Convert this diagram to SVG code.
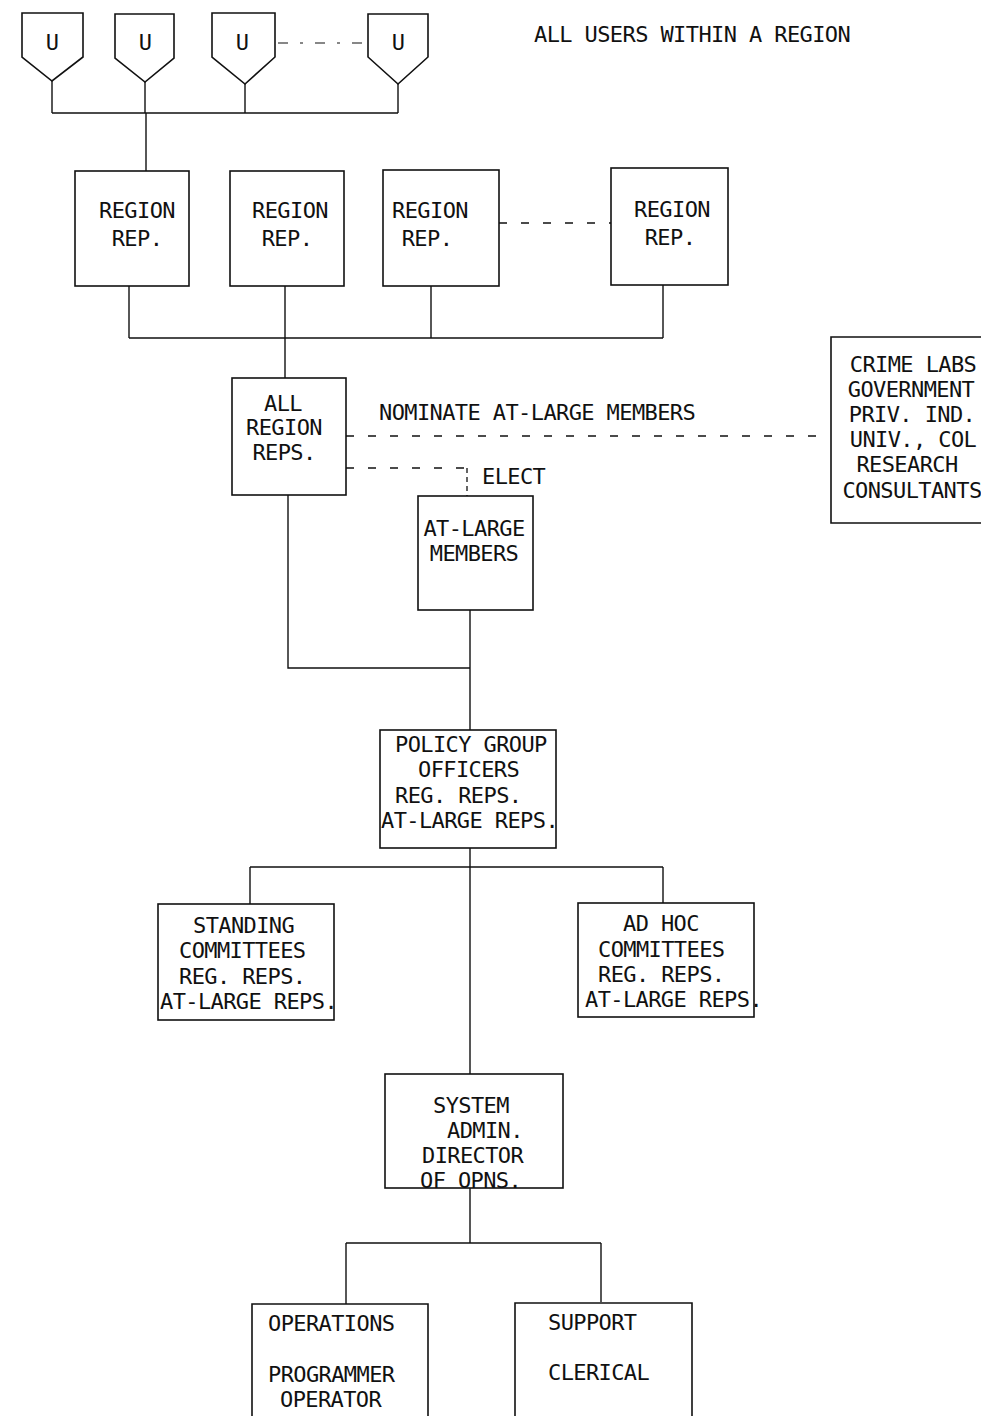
<svg xmlns="http://www.w3.org/2000/svg" width="981" height="1416" viewBox="0 0 981 1416">
<style>
.b{fill:none;stroke:#111;stroke-width:1.6}
.l{fill:none;stroke:#111;stroke-width:1.4}
.d{fill:none;stroke:#111;stroke-width:1.4;stroke-dasharray:8,14}
.dv{fill:none;stroke:#111;stroke-width:1.3;stroke-dasharray:5,4}
.dd{fill:none;stroke:#111;stroke-width:1.2;stroke-dasharray:10,12,3,12}
text{font-family:"DejaVu Sans Mono","Liberation Mono",monospace;font-size:22px;letter-spacing:-0.6px;fill:#111}
.c{text-anchor:middle}
</style>
<rect width="981" height="1416" fill="#fff"/>
<g id="users">
<g id="u1"><path class="b" d="M22,13 H83 V57 L52,81 L22,57 Z"/><text class="c" x="52" y="50">U</text></g>
<g id="u2"><path class="b" d="M115,14 H174 V58 L145,82 L115,58 Z"/><text class="c" x="145" y="50">U</text></g>
<g id="u3"><path class="b" d="M212,13 H275 V57 L245,84 L212,57 Z"/><text class="c" x="242" y="50">U</text></g>
<g id="u4"><path class="b" d="M368,14 H428 V57 L398,84 L368,57 Z"/><text class="c" x="398" y="50">U</text></g>
<text x="534" y="42">ALL USERS WITHIN A REGION</text>
</g>
<g id="rr1"><rect class="b" x="75" y="171" width="114" height="115"/><text class="c" x="137" y="218">REGION</text><text class="c" x="137" y="246">REP.</text></g>
<g id="rr2"><rect class="b" x="230" y="171" width="114" height="115"/><text class="c" x="290" y="218">REGION</text><text class="c" x="287" y="246">REP.</text></g>
<g id="rr3"><rect class="b" x="383" y="170" width="116" height="116"/><text class="c" x="430" y="218">REGION</text><text class="c" x="427" y="246">REP.</text></g>
<g id="rr4"><rect class="b" x="611" y="168" width="117" height="117"/><text class="c" x="672" y="217">REGION</text><text class="c" x="670" y="245">REP.</text></g>
<g id="allreps"><rect class="b" x="232" y="378" width="114" height="117"/><text class="c" x="283" y="411">ALL</text><text class="c" x="284" y="435">REGION</text><text class="c" x="284" y="460">REPS.</text></g>
<g id="crime"><path class="b" d="M981,337 H831 V523 H981"/>
<text class="c" x="913" y="372">CRIME LABS</text><text class="c" x="911" y="397">GOVERNMENT</text><text class="c" x="912" y="422">PRIV. IND.</text><text class="c" x="913" y="447">UNIV., COL</text><text class="c" x="907" y="472">RESEARCH</text><text class="c" x="912" y="498">CONSULTANTS</text></g>
<g id="atlarge"><rect class="b" x="418" y="496" width="115" height="114"/><text class="c" x="474" y="536">AT-LARGE</text><text class="c" x="474" y="561">MEMBERS</text></g>
<g id="policy"><rect class="b" x="380" y="730" width="176" height="118"/><text x="395" y="752">POLICY GROUP</text><text x="418" y="777">OFFICERS</text><text x="395" y="803">REG. REPS.</text><text x="381" y="828">AT-LARGE REPS.</text></g>
<g id="standing"><rect class="b" x="158" y="904" width="176" height="116"/><text x="193" y="933">STANDING</text><text x="179" y="958">COMMITTEES</text><text x="179" y="984">REG. REPS.</text><text x="160" y="1009">AT-LARGE REPS.</text></g>
<g id="adhoc"><rect class="b" x="578" y="903" width="176" height="114"/><text x="623" y="931">AD HOC</text><text x="598" y="957">COMMITTEES</text><text x="598" y="982">REG. REPS.</text><text x="585" y="1007">AT-LARGE REPS.</text></g>
<g id="sysadmin"><rect class="b" x="385" y="1074" width="178" height="114"/><text x="433" y="1113">SYSTEM</text><text x="447" y="1138">ADMIN.</text><text x="422" y="1163">DIRECTOR</text><text x="420" y="1188">OF OPNS.</text></g>
<g id="ops"><path class="b" d="M252,1416 V1304 H428 V1416"/><text x="268" y="1331">OPERATIONS</text><text x="268" y="1382">PROGRAMMER</text><text x="280" y="1407">OPERATOR</text></g>
<g id="support"><path class="b" d="M515,1416 V1303 H692 V1416"/><text x="548" y="1330">SUPPORT</text><text x="548" y="1380">CLERICAL</text></g>
<g id="connectors">
<path class="l" d="M52,81 V113 M145,82 V113 M245,84 V113 M398,84 V113 M52,113 H398 M146,113 V171"/>
<path class="dd" d="M278,43 H365"/>
<path class="d" d="M499,223 H611"/>
<path class="l" d="M129,286 V338 M285,286 V378 M431,286 V338 M663,285 V338 M129,338 H663"/>
<path class="d" d="M346,436 H822"/>
<text x="379" y="420">NOMINATE AT-LARGE MEMBERS</text>
<path class="d" d="M346,468 H467"/>
<path class="dv" d="M467,468 V496"/>
<text x="482" y="484">ELECT</text>
<path class="l" d="M288,495 V668 H470 M470,610 V730"/>
<path class="l" d="M470,848 V1074 M250,867 H663 M250,867 V904 M663,867 V903"/>
<path class="l" d="M470,1188 V1243 M346,1243 H601 M346,1243 V1304 M601,1243 V1302"/>
</g>
</svg>
